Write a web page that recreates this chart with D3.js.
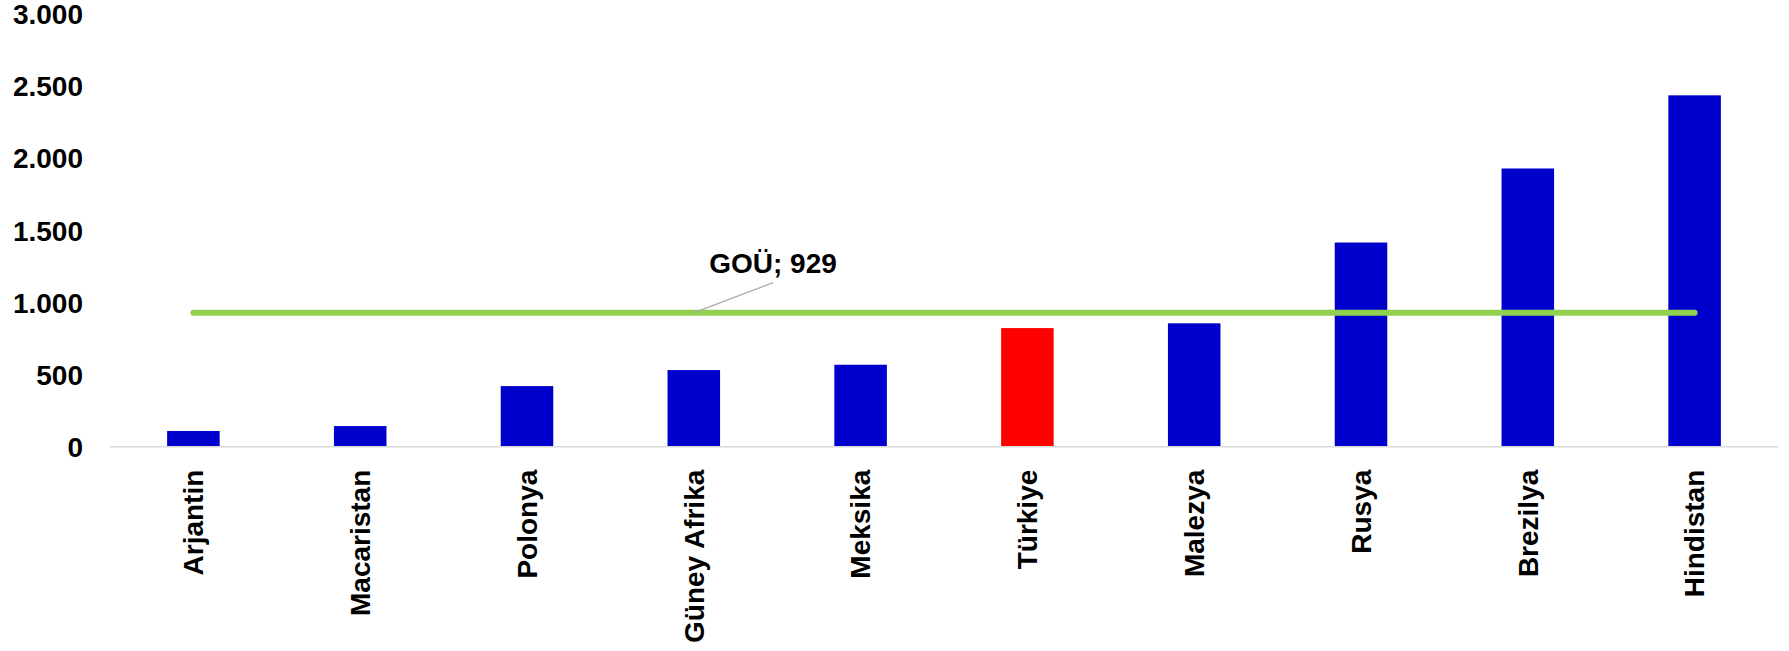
<!DOCTYPE html>
<html>
<head>
<meta charset="utf-8">
<script src="https://cdn.jsdelivr.net/npm/d3@7"></script>
<style>
  html, body { margin: 0; padding: 0; background: #fff; }
  svg { display: block; }
  text { font-family: "Liberation Sans", Arial, sans-serif; font-weight: bold; fill: #000; }
</style>
</head>
<body>
<svg id="chart" width="1789" height="651"></svg>
<script>
const categories = ["Arjantin", "Macaristan", "Polonya", "Güney Afrika", "Meksika", "Türkiye", "Malezya", "Rusya", "Brezilya", "Hindistan"];
const values = [109, 143, 420, 531, 568, 822, 855, 1415, 1928, 2435];
const highlight = ["Türkiye"];
const averageLabel = "GOÜ";
const averageValue = 929;
const yTicks = [0, 500, 1000, 1500, 2000, 2500, 3000];

(function () {
const svg = d3.select("#chart");
const mLeft = 110, mRight = 1778, mTop = 13.8, mBottom = 446.7;

const x = d3.scaleBand().domain(categories).range([mLeft, mRight]).paddingInner(0.685).paddingOuter(0.3425);
const y = d3.scaleLinear().domain([0, 3000]).range([mBottom, mTop]);

const fmt = v => d3.format(",")(v).replace(/,/g, ".");

// y axis labels
const yAxis = d3.axisLeft(y).tickValues(yTicks).tickFormat(fmt).tickSize(0).tickPadding(0);
const gy = svg.append("g").attr("transform", "translate(83,0)").call(yAxis);
gy.select(".domain").remove();
gy.selectAll("text").attr("font-size", 28).attr("font-family", "Liberation Sans, Arial, sans-serif").attr("font-weight", "bold").attr("fill", "#000").attr("dy", "0.35em");

// bars
svg.append("g").selectAll("rect").data(categories).join("rect")
  .attr("x", d => x(d))
  .attr("width", x.bandwidth())
  .attr("y", (d, i) => y(values[i]))
  .attr("height", (d, i) => y(0) - y(values[i]))
  .attr("fill", d => highlight.includes(d) ? "#FF0000" : "#0000CC");

// baseline axis
const xAxis = d3.axisBottom(x).tickSize(0).tickPadding(0);
const gx = svg.append("g").attr("transform", `translate(0,${mBottom})`).call(xAxis);
gx.select(".domain").attr("stroke", "#D9D9D9").attr("stroke-width", 1.5).attr("d", `M${mLeft},0H${mRight}`);
gx.selectAll(".tick text")
  .attr("font-size", 28).attr("font-family", "Liberation Sans, Arial, sans-serif").attr("font-weight", "bold").attr("fill", "#000")
  .attr("text-anchor", "end")
  .attr("transform", "translate(0,23) rotate(-90)")
  .attr("x", 0).attr("y", 0).attr("dy", "0.35em");

// average line
const x0 = x(categories[0]) + x.bandwidth() / 2;
const x1 = x(categories[categories.length - 1]) + x.bandwidth() / 2;
svg.append("line")
  .attr("x1", x0).attr("x2", x1)
  .attr("y1", y(averageValue)).attr("y2", y(averageValue))
  .attr("stroke", "#92D050").attr("stroke-width", 6).attr("stroke-linecap", "round");

// leader line + label
svg.append("line")
  .attr("x1", 694).attr("y1", y(averageValue))
  .attr("x2", 773).attr("y2", y(averageValue) - 30)
  .attr("stroke", "#A6A6A6").attr("stroke-width", 1.2);
svg.append("text")
  .attr("x", 773).attr("y", 263).attr("dy", "0.35em")
  .attr("text-anchor", "middle").attr("font-size", 28)
  .text(`${averageLabel}; ${averageValue}`);
})();
</script>
</body>
</html>
